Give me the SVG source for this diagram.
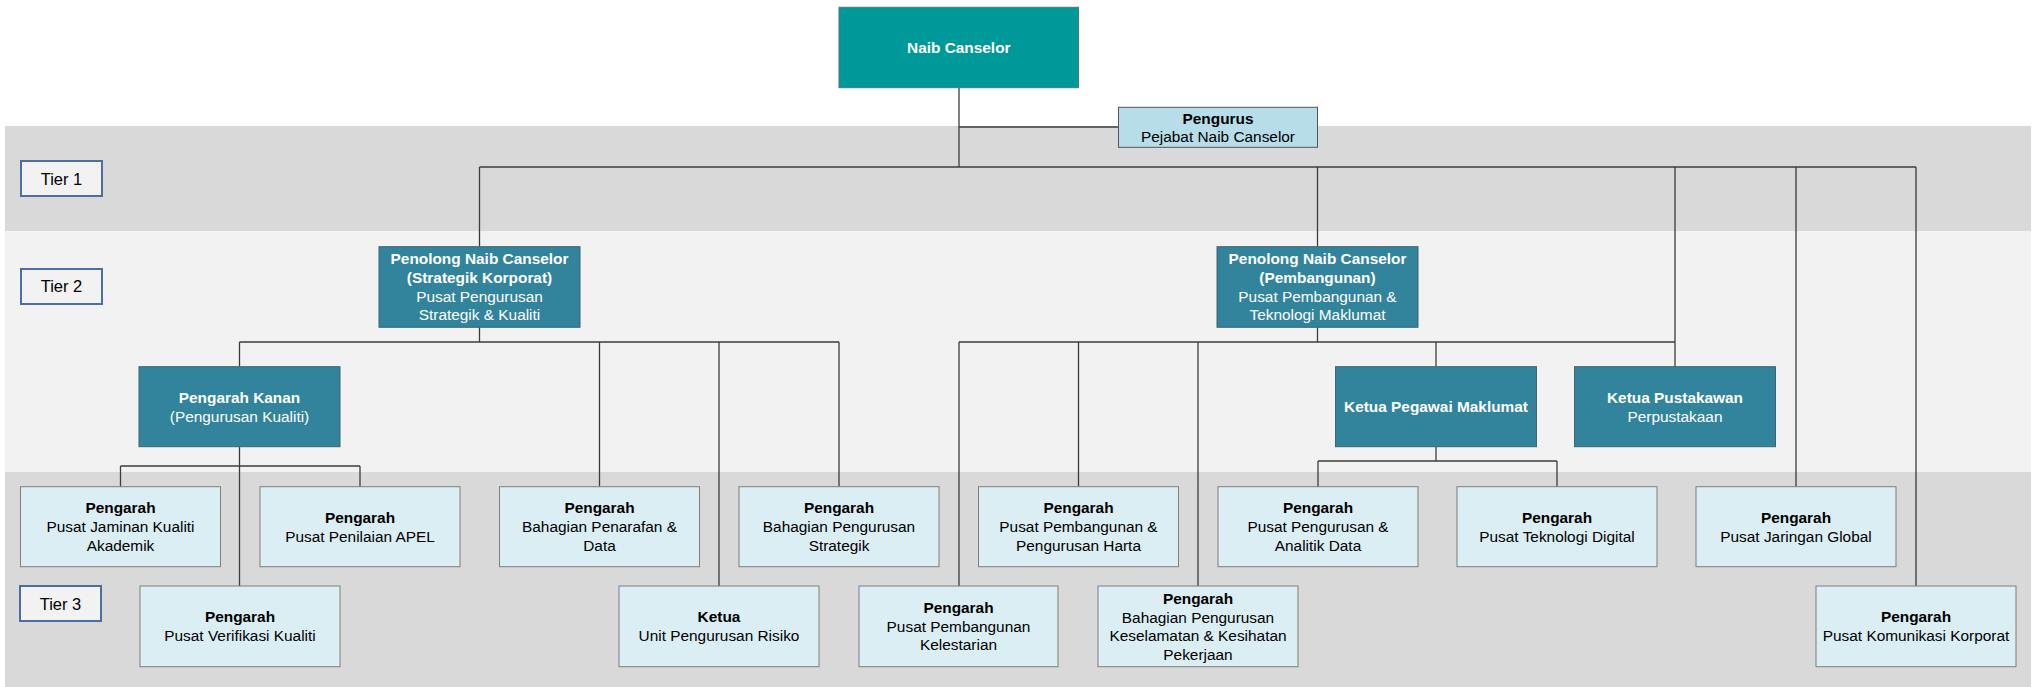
<svg xmlns="http://www.w3.org/2000/svg" width="2041" height="687" viewBox="0 0 2041 687">
<style>
text{font-family:"Liberation Sans",Arial,sans-serif;font-size:15.4px;text-anchor:middle;fill:#000}
.b{font-weight:bold}
.w{fill:#fff}
.nc{fill:#009999;stroke:#4f7777;stroke-width:1}
.t2{fill:#31849b;stroke:#3f6570;stroke-width:1}
.lb{fill:#daeef3;stroke:#7f7f7f;stroke-width:1}
.pg{fill:#b7dee8;stroke:#555;stroke-width:1}
.tier{fill:#f2f2f2;stroke:#4a6fa0;stroke-width:2}
.tt{font-size:16.5px}
#connectors path{fill:none;stroke:#3c3c3c;stroke-width:1.3}
</style>
<rect width="2041" height="687" fill="#fff"/>
<g id="bands">
<rect x="5" y="126" width="2026" height="105" fill="#d9d9d9"/>
<rect x="5" y="231" width="2026" height="241" fill="#f2f2f2"/>
<rect x="5" y="472" width="2026" height="215" fill="#d9d9d9"/>
</g>
<g id="tier1"><rect class="tier" x="21" y="161" width="81" height="35"/><text class="tt" x="61.5" y="184.5">Tier 1</text></g>
<g id="tier2"><rect class="tier" x="21" y="269" width="81" height="35"/><text class="tt" x="61.5" y="292.3">Tier 2</text></g>
<g id="tier3"><rect class="tier" x="20" y="586" width="81" height="35"/><text class="tt" x="60.5" y="609.5">Tier 3</text></g>
<g id="connectors">
<path d="M959,88V167M959,127H1118.5M479.5,167H1916M479.5,167V246.7M1317.5,167V246.7M1675,167V366.7M1796,167V486.7M1916,167V586"/>
<path d="M479.5,327.3V342M239.5,342H839M239.5,342V366.7M599.5,342V486.7M719,342V586M839,342V486.7"/>
<path d="M239.5,446.7V586M120.5,466H360M120.5,466V486.7M360,466V486.7"/>
<path d="M1317.5,327.3V342M959,342H1675M959,342V586M1078.5,342V486.7M1198,342V586M1436,342V366.7"/>
<path d="M1436,446.7V461M1318,461H1557M1318,461V486.7M1557,461V486.7"/>
</g>
<g id="naib-canselor"><rect class="nc" x="839" y="7.3" width="239.5" height="80.4"/><text class="b w" x="958.8" y="52.8">Naib Canselor</text></g>
<g id="pengurus"><rect class="pg" x="1118.5" y="107.3" width="199" height="40"/><text class="b" x="1218" y="123.6">Pengurus</text><text x="1218" y="142">Pejabat Naib Canselor</text></g>
<g id="pnc-strategik"><rect class="t2" x="379" y="246.7" width="201" height="80.6"/>
<text class="b w" x="479.5" y="264.3">Penolong Naib Canselor</text><text class="b w" x="479.5" y="283">(Strategik Korporat)</text><text class="w" x="479.5" y="301.7">Pusat Pengurusan</text><text class="w" x="479.5" y="320.4">Strategik &amp; Kualiti</text></g>
<g id="pnc-pembangunan"><rect class="t2" x="1217" y="246.7" width="201" height="80.6"/>
<text class="b w" x="1317.5" y="264.3">Penolong Naib Canselor</text><text class="b w" x="1317.5" y="283">(Pembangunan)</text><text class="w" x="1317.5" y="301.7">Pusat Pembangunan &amp;</text><text class="w" x="1317.5" y="320.4">Teknologi Maklumat</text></g>
<g id="pengarah-kanan"><rect class="t2" x="139" y="366.7" width="201" height="80"/><text class="b w" x="239.5" y="403">Pengarah Kanan</text><text class="w" x="239.5" y="422">(Pengurusan Kualiti)</text></g>
<g id="ketua-pegawai-maklumat"><rect class="t2" x="1335.5" y="366.7" width="201" height="80"/><text class="b w" x="1436" y="412">Ketua Pegawai Maklumat</text></g>
<g id="ketua-pustakawan"><rect class="t2" x="1574.5" y="366.7" width="201" height="80"/><text class="b w" x="1675" y="403">Ketua Pustakawan</text><text class="w" x="1675" y="421.7">Perpustakaan</text></g>
<g id="jaminan-kualiti"><rect class="lb" x="20.5" y="486.7" width="200" height="80"/><text class="b" x="120.5" y="513.3">Pengarah</text><text x="120.5" y="532">Pusat Jaminan Kualiti</text><text x="120.5" y="550.7">Akademik</text></g>
<g id="penilaian-apel"><rect class="lb" x="260" y="486.7" width="200" height="80"/><text class="b" x="360" y="522.6">Pengarah</text><text x="360" y="541.5">Pusat Penilaian APEL</text></g>
<g id="penarafan-data"><rect class="lb" x="499.5" y="486.7" width="200" height="80"/><text class="b" x="599.5" y="513.3">Pengarah</text><text x="599.5" y="532">Bahagian Penarafan &amp;</text><text x="599.5" y="550.7">Data</text></g>
<g id="pengurusan-strategik"><rect class="lb" x="739" y="486.7" width="200" height="80"/><text class="b" x="839" y="513.3">Pengarah</text><text x="839" y="532">Bahagian Pengurusan</text><text x="839" y="550.7">Strategik</text></g>
<g id="pengurusan-harta"><rect class="lb" x="978.5" y="486.7" width="200" height="80"/><text class="b" x="1078.5" y="513.3">Pengarah</text><text x="1078.5" y="532">Pusat Pembangunan &amp;</text><text x="1078.5" y="550.7">Pengurusan Harta</text></g>
<g id="analitik-data"><rect class="lb" x="1218" y="486.7" width="200" height="80"/><text class="b" x="1318" y="513.3">Pengarah</text><text x="1318" y="532">Pusat Pengurusan &amp;</text><text x="1318" y="550.7">Analitik Data</text></g>
<g id="teknologi-digital"><rect class="lb" x="1457" y="486.7" width="200" height="80"/><text class="b" x="1557" y="522.6">Pengarah</text><text x="1557" y="541.5">Pusat Teknologi Digital</text></g>
<g id="jaringan-global"><rect class="lb" x="1696" y="486.7" width="200" height="80"/><text class="b" x="1796" y="522.6">Pengarah</text><text x="1796" y="541.5">Pusat Jaringan Global</text></g>
<g id="verifikasi-kualiti"><rect class="lb" x="140" y="586" width="200" height="80.7"/><text class="b" x="240" y="622.3">Pengarah</text><text x="240" y="641.2">Pusat Verifikasi Kualiti</text></g>
<g id="pengurusan-risiko"><rect class="lb" x="619" y="586" width="200" height="80.7"/><text class="b" x="719" y="622.3">Ketua</text><text x="719" y="641.2">Unit Pengurusan Risiko</text></g>
<g id="kelestarian"><rect class="lb" x="859" y="586" width="199" height="80.7"/><text class="b" x="958.5" y="613">Pengarah</text><text x="958.5" y="631.7">Pusat Pembangunan</text><text x="958.5" y="650.4">Kelestarian</text></g>
<g id="keselamatan"><rect class="lb" x="1098" y="586" width="200" height="80.7"/><text class="b" x="1198" y="604">Pengarah</text><text x="1198" y="622.6">Bahagian Pengurusan</text><text x="1198" y="641.1">Keselamatan &amp; Kesihatan</text><text x="1198" y="659.6">Pekerjaan</text></g>
<g id="komunikasi-korporat"><rect class="lb" x="1816" y="586" width="200" height="80.7"/><text class="b" x="1916" y="622.3">Pengarah</text><text x="1916" y="641.2">Pusat Komunikasi Korporat</text></g>
</svg>
